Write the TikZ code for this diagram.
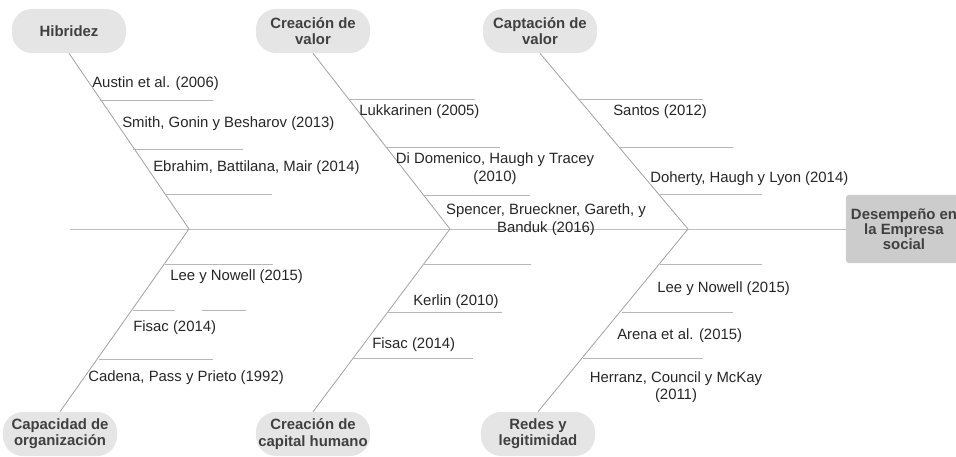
\documentclass[tikz,border=0pt]{standalone}
\usepackage{fontspec}
\setmainfont{Liberation Sans}
\usepackage{xcolor}
\usetikzlibrary{positioning}
\definecolor{causegray}{RGB}{229,229,229}
\definecolor{effectgray}{RGB}{204,204,204}
\definecolor{labelgray}{RGB}{64,64,64}
\definecolor{bonegray}{RGB}{165,165,165}
\definecolor{spinegray}{RGB}{190,190,190}

\tikzset{
  cause/.style={rectangle, rounded corners=0.5cm, fill=causegray, text=labelgray,
    font=\bfseries\fontsize{10.6}{11.5}\selectfont, align=center,
    minimum width=2.85cm, minimum height=1.1cm, inner sep=1pt},
  effect/.style={rectangle, rounded corners=2pt, fill=effectgray, text=labelgray,
    font=\bfseries\fontsize{10.6}{10.8}\selectfont, align=center,
    minimum width=2.9cm, minimum height=1.7cm, inner sep=1pt},
  refer/.style={font=\fontsize{10.6}{12.3}\selectfont, text=black!85, inner sep=0pt,
    yshift=-0.05cm},
  bone/.style={draw=bonegray, line width=0.6pt},
  rib/.style={draw=bonegray!80, line width=0.6pt},
}

\begin{document}
\begin{tikzpicture}[x=0.025cm, y=-0.025cm]
\clip (0,0) rectangle (956,456);

% Head and causes
\node[effect] (desemp) at (904,229) {Desempe\~no en\\la Empresa\\social};
\node[cause] (hib)   at (69,31)   {Hibridez};
\node[cause] (cval)  at (313,31)  {Creaci\'on de\\valor};
\node[cause] (capt)  at (540,31)  {Captaci\'on de\\valor};
\node[cause] (corg)  at (60,434)  {Capacidad de\\organizaci\'on};
\node[cause] (chum)  at (313,434) {Creaci\'on de\\capital humano};
\node[cause] (redes) at (538,434) {Redes y\\legitimidad};

% Spine
\coordinate (tail) at (70,229);
\coordinate (j1) at (189,229);
\coordinate (j2) at (450,229);
\coordinate (j3) at (688,229);
\draw[draw=spinegray, line width=0.7pt] (tail) -- (desemp.west);

% Bones
\draw[bone] (hib.south) -- (j1);
\draw[bone] (cval.south) -- (j2);
\draw[bone] (capt.south) -- (j3);
\draw[bone] (corg.north) -- (j1);
\draw[bone] (chum.north) -- (j2);
\draw[bone] (redes.north) -- (j3);

% Ribs
\foreach \xa/\xb/\yy in {100/213/100, 133/243/149, 166/272/194,
                         349/475/99, 387/500/147, 424/530/195,
                         578/703/99, 620/733/147, 660/762/194,
                         165/273/264, 133/175/310, 202/246/310, 99/213/359,
                         423/531/264, 387/502/312, 352/473/358,
                         660/762/264, 622/733/312, 583/703/358}{
  \draw[rib] (\xa,\yy) -- (\xb,\yy);
}

% References, upper causes
\node[refer, anchor=west] (r1) at (92,82)  {Austin et al. (2006)};
\node[refer, anchor=west] (r2) at (122,122) {Smith, Gonin y Besharov (2013)};
\node[refer, anchor=west] (r3) at (153,166) {Ebrahim, Battilana, Mair (2014)};
\node[refer, anchor=west] (r4) at (359,110) {Lukkarinen (2005)};
\node[refer, align=center] (r5) at (495,166.5) {Di Domenico, Haugh y Tracey\\(2010)};
\node[refer, align=center] (r6) at (546,217.5) {Spencer, Brueckner, Gareth, y\\Banduk (2016)};
\node[refer, anchor=west] (r7) at (613,110) {Santos (2012)};
\node[refer, anchor=west] (r8) at (650,177) {Doherty, Haugh y Lyon (2014)};

% References, lower causes
\node[refer, anchor=west] (r9)  at (170,275) {Lee y Nowell (2015)};
\node[refer, anchor=west] (r10) at (133,326) {Fisac (2014)};
\node[refer, anchor=west] (r11) at (88,376)  {Cadena, Pass y Prieto (1992)};
\node[refer, anchor=west] (r12) at (413,300) {Kerlin (2010)};
\node[refer, anchor=west] (r13) at (372,343) {Fisac (2014)};
\node[refer, anchor=west] (r14) at (657,287) {Lee y Nowell (2015)};
\node[refer, anchor=west] (r15) at (617,334) {Arena et al. (2015)};
\node[refer, align=center] (r16) at (676,385) {Herranz, Council y McKay\\(2011)};
\end{tikzpicture}
\end{document}
